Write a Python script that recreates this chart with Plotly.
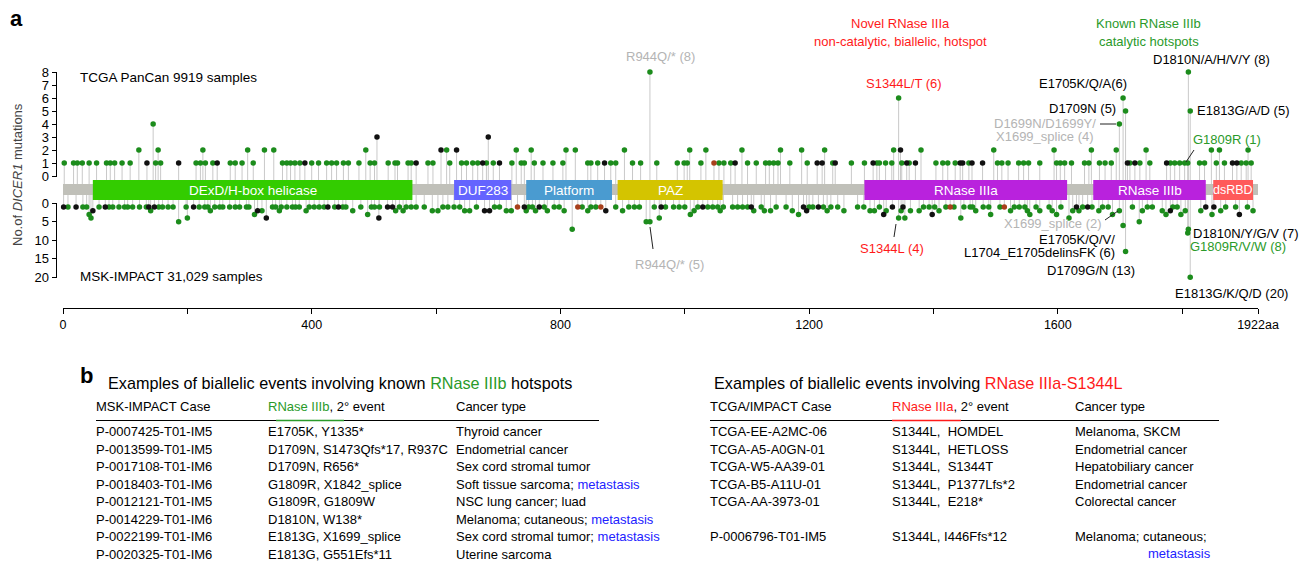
import plotly.graph_objects as go

W, H = 1311, 562
FONT = "Liberation Sans, Arial, Helvetica, sans-serif"

# ---------------- data ----------------
protein_length = 1922
domain_names = ["DExD/H-box helicase", "DUF283", "Platform", "PAZ", "RNase IIIa", "RNase IIIb", "dsRBD"]
domain_start = [48, 629, 745, 892, 1289, 1657, 1850]
domain_end = [562, 721, 883, 1061, 1615, 1838, 1914]
domain_colors = ["#33cc00", "#6464ff", "#4a9bd0", "#d4c400", "#b922dd", "#b922dd", "#ff5a5a"]

# TCGA PanCan (position, number of mutations)
tcga_missense = [
    [2, 1], [17, 1], [23, 1], [31, 1], [42, 1], [54, 1], [70, 1], [76, 1], [83, 1], [95, 1], [108, 1],
    [122, 2], [145, 4], [149, 1], [153, 2], [157, 1], [214, 1], [221, 1], [225, 2], [229, 1], [241, 1],
    [269, 1], [277, 1], [288, 1], [297, 2], [306, 1], [324, 2], [339, 2], [353, 1], [360, 1], [366, 1],
    [373, 1], [381, 1], [400, 1], [411, 1], [424, 1], [432, 1], [440, 1], [451, 1], [459, 1], [476, 1],
    [487, 2], [494, 1], [501, 1], [523, 1], [534, 1], [538, 1], [555, 1], [560, 1], [587, 1], [595, 1],
    [617, 2], [622, 1], [641, 1], [649, 1], [659, 1], [667, 1], [681, 1], [692, 1], [722, 1], [729, 2],
    [737, 1], [742, 1], [753, 2], [758, 1], [772, 1], [788, 1], [804, 1], [809, 2], [824, 2], [844, 1],
    [849, 1], [860, 1], [881, 1], [889, 1], [903, 2], [916, 1], [929, 1], [944, 8], [955, 1], [988, 1],
    [999, 1], [1004, 1], [1008, 2], [1026, 1], [1034, 2], [1055, 1], [1063, 1], [1074, 1], [1092, 2],
    [1101, 1], [1115, 1], [1130, 1], [1136, 1], [1143, 1], [1150, 1], [1154, 2], [1169, 1], [1188, 2],
    [1197, 1], [1225, 2], [1238, 1], [1268, 1], [1289, 1], [1309, 1], [1313, 1], [1323, 1], [1333, 1],
    [1336, 2], [1344, 6], [1349, 1], [1361, 1], [1380, 2], [1404, 1], [1415, 1], [1423, 1], [1435, 1],
    [1457, 1], [1497, 2], [1503, 1], [1510, 1], [1520, 1], [1537, 1], [1545, 1], [1553, 1], [1571, 1],
    [1594, 2], [1598, 1], [1604, 1], [1611, 1], [1622, 1], [1643, 1], [1650, 1], [1654, 2], [1667, 1],
    [1676, 1], [1686, 1], [1694, 2], [1699, 4], [1705, 6], [1709, 5], [1716, 1], [1732, 1], [1742, 2],
    [1748, 1], [1781, 1], [1788, 1], [1796, 1], [1804, 1], [1809, 1], [1810, 8], [1813, 5], [1828, 1],
    [1836, 1], [1847, 2], [1855, 1], [1860, 2], [1868, 1], [1895, 1], [1903, 1], [1906, 2], [1911, 1],
]
tcga_truncating = [
    [135, 1], [186, 1], [248, 1], [389, 1], [505, 3], [568, 1], [608, 2], [633, 2], [675, 1], [684, 3],
    [702, 1], [871, 1], [1081, 1], [1213, 1], [1221, 1], [1242, 1], [1303, 1], [1347, 2], [1357, 1],
    [1371, 1], [1443, 1], [1447, 1], [1462, 1], [1479, 1], [1712, 1], [1724, 1], [1775, 1], [1881, 1],
    [1888, 1],
]
tcga_other = [[1047, 1]]

# MSK-IMPACT (position, number of mutations)
msk_missense = [
    [8, 1], [32, 1], [38, 1], [42, 3], [45, 4], [58, 1], [74, 1], [80, 1], [90, 1], [99, 1], [104, 1],
    [112, 1], [123, 1], [134, 1], [141, 2], [154, 1], [160, 1], [169, 1], [177, 1], [186, 5], [198, 1],
    [200, 4], [219, 1], [228, 1], [233, 1], [237, 2], [244, 1], [252, 1], [257, 1], [268, 1], [277, 1],
    [284, 1], [295, 1], [299, 1], [308, 3], [320, 2], [337, 1], [342, 1], [348, 2], [351, 1], [360, 1],
    [369, 1], [374, 1], [380, 1], [391, 2], [396, 1], [404, 1], [412, 1], [420, 1], [437, 1], [450, 1],
    [455, 1], [466, 2], [479, 1], [490, 3], [496, 1], [501, 1], [509, 1], [535, 2], [541, 1], [547, 2],
    [552, 1], [560, 1], [568, 1], [581, 1], [594, 2], [603, 2], [611, 1], [619, 1], [629, 1], [638, 1],
    [646, 2], [654, 2], [665, 1], [694, 1], [702, 1], [713, 2], [721, 2], [745, 2], [749, 1], [755, 1],
    [760, 2], [774, 1], [779, 2], [790, 1], [798, 1], [806, 2], [819, 7], [835, 1], [844, 2], [849, 1],
    [857, 1], [889, 1], [900, 2], [910, 1], [919, 1], [927, 1], [938, 5], [944, 5], [951, 1], [959, 4],
    [969, 1], [982, 1], [991, 1], [1000, 1], [1009, 3], [1015, 2], [1021, 1], [1037, 1], [1045, 1],
    [1053, 1], [1057, 2], [1062, 1], [1077, 1], [1085, 1], [1093, 1], [1101, 1], [1111, 2], [1123, 1],
    [1128, 2], [1138, 2], [1147, 1], [1163, 1], [1173, 2], [1183, 3], [1200, 1], [1206, 1], [1223, 1],
    [1229, 2], [1235, 1], [1246, 1], [1256, 2], [1278, 1], [1288, 1], [1298, 2], [1305, 2], [1313, 1],
    [1324, 2], [1344, 4], [1348, 2], [1354, 4], [1363, 2], [1377, 2], [1384, 1], [1393, 1], [1402, 1],
    [1409, 2], [1420, 1], [1433, 1], [1444, 4], [1449, 1], [1459, 1], [1463, 1], [1468, 2], [1480, 1],
    [1489, 1], [1492, 3], [1507, 1], [1524, 2], [1530, 1], [1538, 1], [1547, 1], [1551, 2], [1555, 3],
    [1565, 1], [1571, 2], [1586, 1], [1591, 2], [1598, 3], [1605, 1], [1618, 4], [1624, 2], [1634, 2],
    [1640, 1], [1655, 1], [1666, 2], [1672, 1], [1681, 1], [1688, 3], [1699, 2], [1705, 6], [1709, 13],
    [1720, 1], [1731, 5], [1736, 2], [1744, 1], [1752, 1], [1768, 2], [1774, 3], [1785, 1], [1792, 1],
    [1798, 3], [1805, 2], [1809, 8], [1810, 7], [1813, 20], [1830, 2], [1848, 3], [1862, 2], [1870, 1],
    [1886, 1], [1905, 1], [1914, 2],
]
msk_truncating = [
    [1, 1], [21, 1], [48, 2], [68, 1], [138, 1], [147, 1], [210, 1], [313, 2], [327, 4], [426, 1],
    [443, 1], [508, 4], [522, 1], [530, 1], [678, 2], [686, 2], [742, 1], [766, 1], [873, 2], [962, 1],
    [1029, 1], [1107, 1], [1191, 1], [1196, 2], [1215, 1], [1320, 3], [1334, 1], [1351, 1], [1398, 3],
    [1630, 1], [1648, 1], [1781, 2], [1838, 1], [1851, 1], [1892, 3],
]
msk_other = [[731, 1], [828, 1], [865, 1], [1427, 1], [1514, 1]]

top_ticks = [0, 1, 2, 3, 4, 5, 6, 7, 8]
bottom_ticks = [0, 5, 10, 15, 20]
x_ticks = [0, 200, 400, 600, 800, 1000, 1200, 1400, 1600, 1800, 1922]
x_ticktext = ["0", "", "400", "", "800", "", "1200", "", "1600", "", "1922aa"]

# table b (left)
left_cases = ["P-0007425-T01-IM5", "P-0013599-T01-IM5", "P-0017108-T01-IM6", "P-0018403-T01-IM6",
              "P-0012121-T01-IM5", "P-0014229-T01-IM6", "P-0022199-T01-IM6", "P-0020325-T01-IM6"]
left_events = ["E1705K, Y1335*", "D1709N, S1473Qfs*17, R937C", "D1709N, R656*", "G1809R, X1842_splice",
               "G1809R, G1809W", "D1810N, W138*", "E1813G, X1699_splice", "E1813G, G551Efs*11"]
left_cancer = ["Thyroid cancer", "Endometrial cancer", "Sex cord stromal tumor", "Soft tissue sarcoma;",
               "NSC lung cancer; luad", "Melanoma; cutaneous;", "Sex cord stromal tumor;", "Uterine sarcoma"]
left_metastasis = [False, False, False, True, False, True, True, False]
# table b (right)
right_cases = ["TCGA-EE-A2MC-06", "TCGA-A5-A0GN-01", "TCGA-W5-AA39-01", "TCGA-B5-A11U-01",
               "TCGA-AA-3973-01", "P-0006796-T01-IM5"]
right_events = ["S1344L,\u00a0 HOMDEL", "S1344L,\u00a0 HETLOSS", "S1344L,\u00a0 S1344T",
                "S1344L,\u00a0 P1377Lfs*2", "S1344L,\u00a0 E218*", "S1344L, I446Ffs*12"]
right_cancer = ["Melanoma, SKCM", "Endometrial cancer", "Hepatobiliary cancer", "Endometrial cancer",
                "Colorectal cancer", "Melanoma; cutaneous;"]

# ---------------- helpers ----------------
def X(px):
    return px / W


def Y(py):
    return 1 - py / H


GREEN_DOT = "#1c8c1c"
BLACK_DOT = "#111111"
RED_DOT = "#a8401c"
GREEN_TXT = "#2a9a2a"
RED_TXT = "#ff1a1a"
GRAY_TXT = "#b4b4b4"
BLUE_TXT = "#2222ff"
STEM = "#c9c9c9"

TOP_BASE = (176 - 184) / 13.0
BOT_BASE = (195 - 203.3) / 3.7

fig = go.Figure()


def add_panel(groups, yref, base):
    sx, sy = [], []
    for g, _ in groups:
        for p, n in g:
            sx += [p, p, None]
            sy += [base, n, None]
    fig.add_trace(go.Scatter(x=sx, y=sy, mode="lines", line=dict(color=STEM, width=1),
                             yaxis=yref, hoverinfo="skip", showlegend=False))
    for g, col in groups:
        fig.add_trace(go.Scatter(x=[p for p, n in g], y=[n for p, n in g], mode="markers",
                                 marker=dict(color=col, size=5.5, line=dict(width=0)),
                                 yaxis=yref, cliponaxis=False, showlegend=False))


add_panel([(tcga_missense, GREEN_DOT), (tcga_other, RED_DOT), (tcga_truncating, BLACK_DOT)], "y", TOP_BASE)
add_panel([(msk_missense, GREEN_DOT), (msk_other, RED_DOT), (msk_truncating, BLACK_DOT)], "y2", BOT_BASE)

shapes = []
# backbone
shapes.append(dict(type="rect", xref="x", yref="paper", x0=0, x1=protein_length, y0=Y(195), y1=Y(184),
                   fillcolor="#c0c0b9", line=dict(width=0), layer="above"))
annotations = []
for name, s, e, c in zip(domain_names, domain_start, domain_end, domain_colors):
    shapes.append(dict(type="rect", xref="x", yref="paper", x0=s, x1=e, y0=Y(200), y1=Y(180),
                       fillcolor=c, line=dict(width=0), layer="above"))
    annotations.append(dict(xref="x", yref="paper", x=(s + e) / 2, y=Y(190), text=name, showarrow=False,
                            font=dict(color="white", size=12.5 if name == "dsRBD" else 13.5, family=FONT),
                            xanchor="center", yanchor="middle"))

# y-axis lines
shapes.append(dict(type="line", xref="paper", yref="y", x0=X(56.5), x1=X(56.5), y0=0, y1=8,
                   line=dict(color="black", width=1)))
shapes.append(dict(type="line", xref="paper", yref="y2", x0=X(56.5), x1=X(56.5), y0=0, y1=20,
                   line=dict(color="black", width=1)))

# pointer lines
pointers = [((650, 227), (653, 249)), ((896, 224), (894, 237)), ((1100, 124), (1116, 124)),
            ((1194, 150), (1186, 162)), ((1105, 220), (1118, 211))]
for (a, b) in pointers:
    shapes.append(dict(type="line", xref="paper", yref="paper", x0=X(a[0]), y0=Y(a[1]), x1=X(b[0]), y1=Y(b[1]),
                       line=dict(color="#222222", width=1)))


def txt(text, px, py, anchor="left", size=13, color="black", **kw):
    annotations.append(dict(xref="paper", yref="paper", x=X(px), y=Y(py), text=text, showarrow=False,
                            xanchor=anchor, yanchor="middle", borderpad=0, borderwidth=0,
                            font=dict(size=size, color=color, family=FONT), **kw))


txt("<b>a</b>", 10, 18, size=22)
txt("<b>b</b>", 80, 375, size=22)
txt("TCGA PanCan 9919 samples", 80, 77, size=13.5)
txt("MSK-IMPACT 31,029 samples", 80, 276, size=13.5)
txt("No.of <i>DICER1</i> mutations", 17, 175, anchor="center", size=13, color="#444444", textangle=-90)

txt("R944Q/* (8)", 660, 57, "center", color=GRAY_TXT)
txt("R944Q/* (5)", 669, 264, "center", color=GRAY_TXT)
txt("Novel RNase IIIa", 900, 24, "center", color=RED_TXT)
txt("non-catalytic, biallelic, hotspot", 900, 41, "center", color=RED_TXT)
txt("S1344L/T (6)", 904, 83, "center", color=RED_TXT)
txt("S1344L (4)", 892, 248, "center", color=RED_TXT)
txt("Known RNase IIIb", 1148, 24, "center", color=GREEN_TXT)
txt("catalytic hotspots", 1149, 41, "center", color=GREEN_TXT)
txt("D1810N/A/H/V/Y (8)", 1211, 60, "center")
txt("E1705K/Q/A(6)", 1127, 83, "right")
txt("D1709N (5)", 1116, 108, "right")
txt("D1699N/D1699Y/", 1096, 123, "right", color=GRAY_TXT)
txt("X1699_splice (4)", 1094, 136, "right", color=GRAY_TXT)
txt("E1813G/A/D (5)", 1197, 111, "left")
txt("G1809R (1)", 1193, 139, "left", color=GREEN_TXT)
txt("X1699_splice (2)", 1102, 223, "right", color=GRAY_TXT)
txt("E1705K/Q/V/", 1115, 239, "right")
txt("L1704_E1705delinsFK (6)", 1115, 252, "right")
txt("D1709G/N (13)", 1091, 270, "center")
txt("D1810N/Y/G/V (7)", 1193, 233, "left")
txt("G1809R/V/W (8)", 1190, 246, "left", color=GREEN_TXT)
txt("E1813G/K/Q/D (20)", 1175, 293, "left")

# ---- panel b tables ----
TS = 13
TT = 16.2
txt("Examples of biallelic events involving known <span style='color:%s'>RNase IIIb</span> hotspots" % GREEN_TXT,
    108, 383, size=TT)
txt("MSK-IMPACT Case", 96, 406, size=TS)
txt("<span style='color:%s'>RNase IIIb</span>, 2° event" % GREEN_TXT, 268, 406, size=TS)
txt("Cancer type", 456, 406, size=TS)
shapes.append(dict(type="line", xref="paper", yref="paper", x0=X(96), x1=X(599), y0=Y(420.5), y1=Y(420.5),
                   line=dict(color="black", width=1.2)))
shapes.append(dict(type="line", xref="paper", yref="paper", x0=X(276), x1=X(344), y0=Y(420.5), y1=Y(420.5),
                   line=dict(color=GREEN_TXT, width=1.5)))
left_rows_y = [431.7, 449.2, 466.7, 484.2, 501.7, 519.2, 536.7, 554.0]
for yy, c, e, k, m in zip(left_rows_y, left_cases, left_events, left_cancer, left_metastasis):
    txt(c, 96, yy, size=TS)
    txt(e, 268, yy, size=TS)
    txt(k + (" <span style='color:%s'>metastasis</span>" % BLUE_TXT if m else ""), 456, yy, size=TS)

txt("Examples of biallelic events involving <span style='color:%s'>RNase IIIa-S1344L</span>" % RED_TXT,
    714, 383, size=TT)
txt("TCGA/IMPACT Case", 710, 406, size=TS)
txt("<span style='color:%s'>RNase IIIa</span>, 2° event" % RED_TXT, 892, 406, size=TS)
txt("Cancer type", 1075, 406, size=TS)
shapes.append(dict(type="line", xref="paper", yref="paper", x0=X(710), x1=X(1219), y0=Y(420.5), y1=Y(420.5),
                   line=dict(color="black", width=1.2)))
shapes.append(dict(type="line", xref="paper", yref="paper", x0=X(892), x1=X(961), y0=Y(420.5), y1=Y(420.5),
                   line=dict(color=RED_TXT, width=1.5)))
right_rows_y = [431.7, 449.2, 466.7, 484.2, 501.7, 536.7]
for yy, c, e, k in zip(right_rows_y, right_cases, right_events, right_cancer):
    txt(c, 710, yy, size=TS)
    txt(e, 892, yy, size=TS)
    txt(k, 1075, yy, size=TS)
txt("metastasis", 1211, 553, "right", size=TS, color=BLUE_TXT)

axis_common = dict(showgrid=False, zeroline=False, ticks="outside", ticklen=5, tickwidth=1,
                   tickcolor="black", tickfont=dict(size=13, color="black", family=FONT))
fig.update_layout(
    width=W, height=H, autosize=False, margin=dict(l=0, r=0, t=0, b=0, autoexpand=False),
    paper_bgcolor="white", plot_bgcolor="rgba(0,0,0,0)",
    showlegend=False,
    font=dict(family=FONT),
    xaxis=dict(domain=[X(63), X(1258)], range=[0, protein_length], anchor="free", position=Y(308),
               showline=True, linecolor="black", linewidth=1, tickvals=x_ticks, ticktext=x_ticktext,
               **{**axis_common, "tickfont": dict(size=12.5, color="black", family=FONT)}),
    yaxis=dict(domain=[Y(184), Y(66)], range=[TOP_BASE, (176 - 66) / 13.0], anchor="free", position=X(56.5),
               showline=False, tickvals=top_ticks, **axis_common),
    yaxis2=dict(domain=[Y(285), Y(195)], range=[(285 - 203.3) / 3.7, BOT_BASE], anchor="free",
                position=X(56.5), showline=False, tickvals=bottom_ticks, **axis_common),
    shapes=shapes,
    annotations=annotations,
)

fig.write_html("out.html", config={"responsive": False, "displayModeBar": False},
               post_script="document.body.style.margin='0';document.body.style.overflow='hidden';")
